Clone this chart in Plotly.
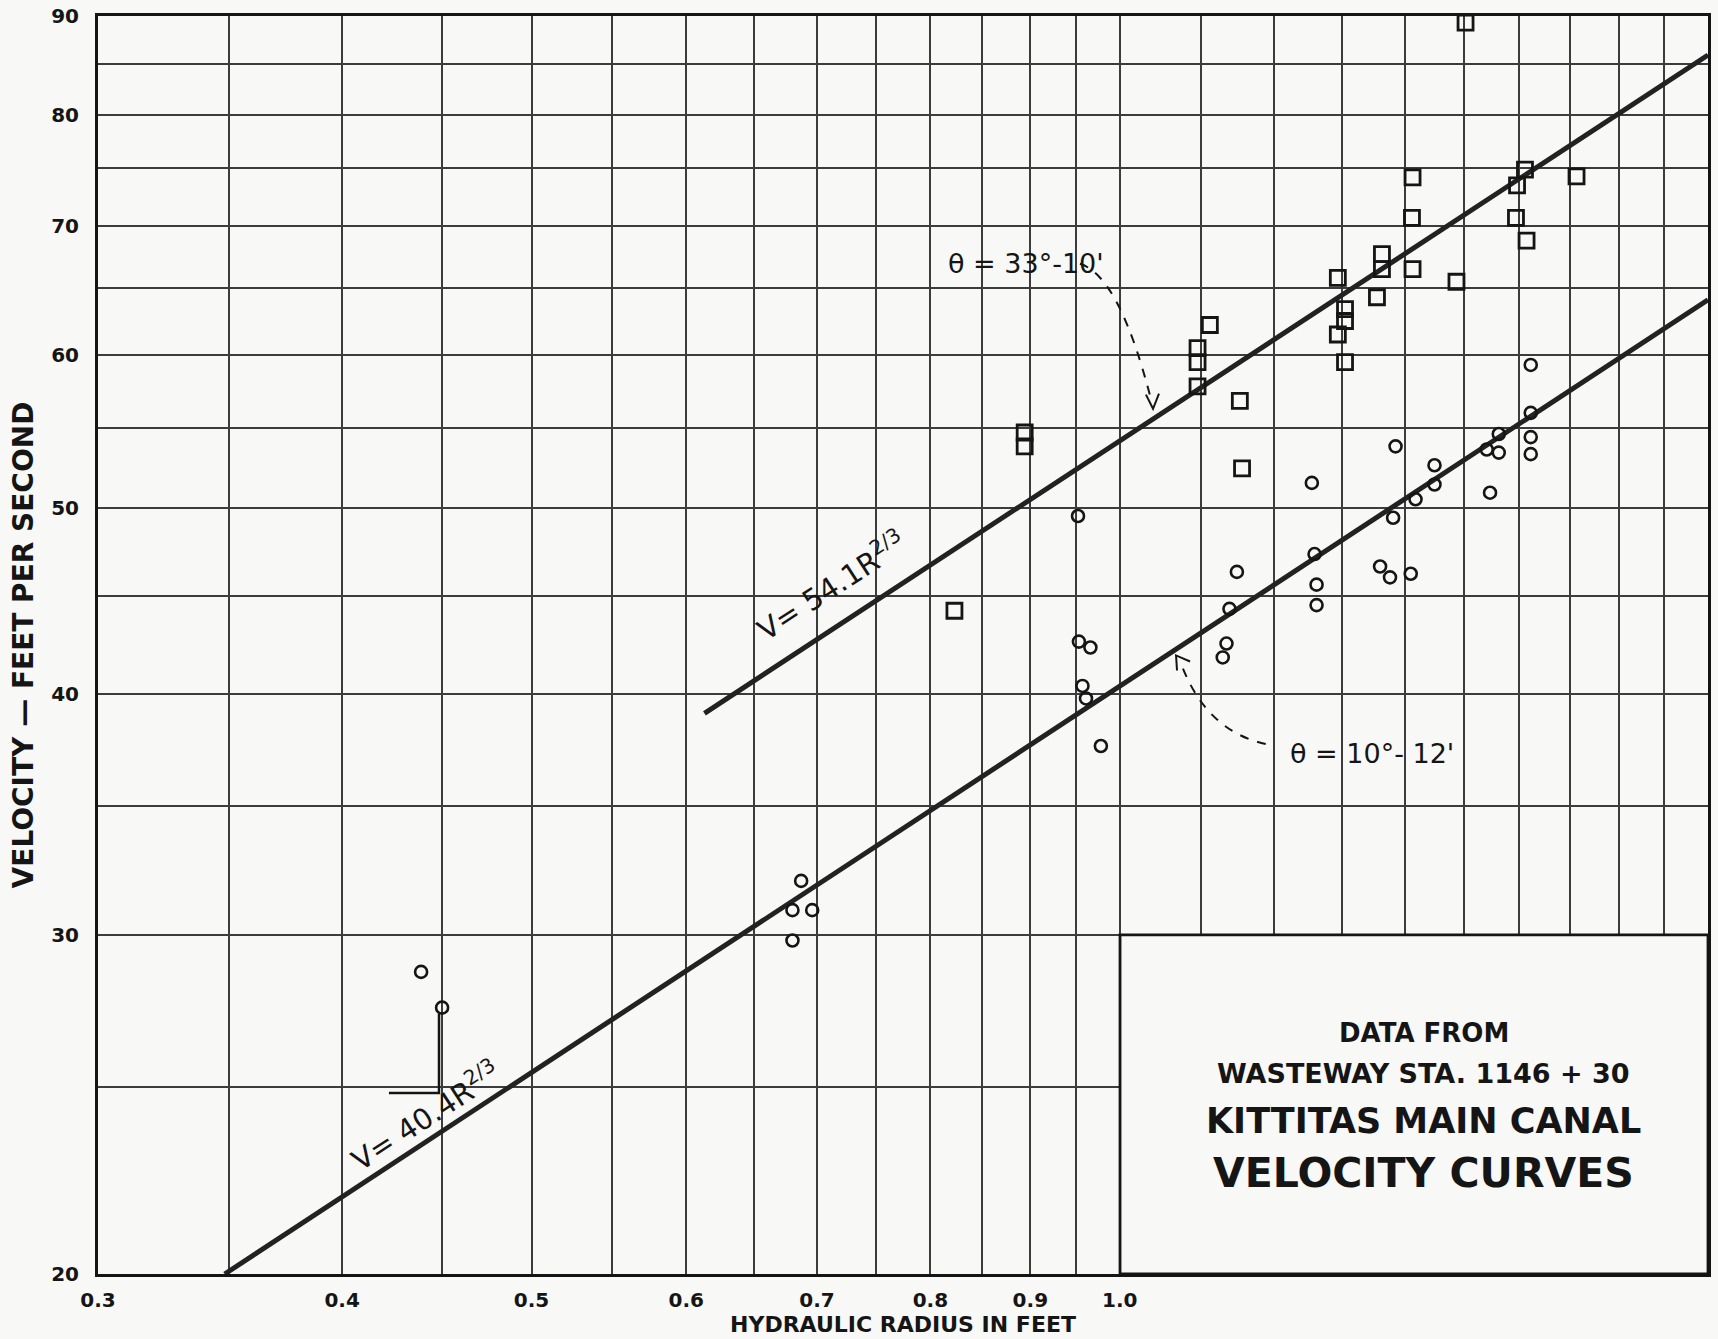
import math
import plotly.graph_objects as go

# ---------------- data ----------------
# grid / tick values
x_grid = [0.3, 0.35, 0.4, 0.45, 0.5, 0.55, 0.6, 0.65, 0.7, 0.75, 0.8, 0.85, 0.9, 0.95, 1.0,
          1.1, 1.2, 1.3, 1.4, 1.5, 1.6, 1.7, 1.8, 1.9, 2.0]
x_labeled = {0.3: "0.3", 0.4: "0.4", 0.5: "0.5", 0.6: "0.6", 0.7: "0.7", 0.8: "0.8", 0.9: "0.9", 1.0: "1.0"}
y_grid = [20, 25, 30, 35, 40, 45, 50, 55, 60, 65, 70, 75, 80, 85, 90]
y_labeled = {20: "20", 30: "30", 40: "40", 50: "50", 60: "60", 70: "70", 80: "80", 90: "90"}

# square markers (hydraulic radius, velocity)
sq_R = [1.503, 1.412, 1.612, 1.597, 1.713, 1.411, 1.595, 1.615, 1.362, 1.362, 1.412, 1.487,
        1.293, 1.354, 1.304, 1.304, 1.293, 1.304, 1.112, 1.096, 1.096, 1.096, 1.152, 1.155,
        0.894, 0.894, 0.823]
sq_V = [89.3, 74.2, 74.9, 73.5, 74.3, 70.7, 70.7, 68.8, 67.7, 66.5, 66.5, 65.5,
        65.8, 64.3, 63.4, 62.5, 61.5, 59.5, 62.2, 60.5, 59.5, 57.8, 56.8, 52.4,
        54.7, 53.8, 44.2]

# circle markers
ci_R = [0.450, 0.439, 0.687, 0.680, 0.696, 0.680, 0.952, 0.953, 0.966, 0.957, 0.961, 0.978,
        1.148, 1.138, 1.134, 1.129, 1.254, 1.258, 1.261, 1.261, 1.384, 1.359, 1.375, 1.409,
        1.380, 1.417, 1.449, 1.449, 1.547, 1.563, 1.541, 1.563, 1.623, 1.623, 1.623, 1.623]
ci_V = [27.5, 28.7, 32.0, 30.9, 30.9, 29.8, 49.5, 42.6, 42.3, 40.4, 39.8, 37.6,
        46.3, 44.3, 42.5, 41.8, 51.5, 47.3, 45.6, 44.5, 53.8, 46.6, 46.0, 46.2,
        49.4, 50.5, 52.6, 51.4, 50.9, 54.6, 53.6, 53.4, 59.3, 56.0, 54.4, 53.3]

# fitted lines  V = 54.1 R^(2/3)  and  V = 40.4 R^(2/3)  (end points)
line1_R = [0.613, 2.0]
line1_V = [39.1, 85.9]
line2_R = [0.3483, 2.0]
line2_V = [20.0, 64.1]

# ---------------- styling ----------------
BG = "#f8f8f6"
INK = "#151515"
FONT = "DejaVu Sans"

fig = go.Figure()

fig.add_trace(go.Scatter(x=line1_R, y=line1_V, mode="lines",
                         line=dict(color="#222", width=5), hoverinfo="skip"))
fig.add_trace(go.Scatter(x=line2_R, y=line2_V, mode="lines",
                         line=dict(color="#222", width=5), hoverinfo="skip"))
fig.add_trace(go.Scatter(x=sq_R, y=sq_V, mode="markers",
                         marker=dict(symbol="square-open", size=15, color=INK,
                                     line=dict(width=2.8, color=INK))))
fig.add_trace(go.Scatter(x=ci_R, y=ci_V, mode="markers",
                         marker=dict(symbol="circle-open", size=12, color=INK,
                                     line=dict(width=2.6, color=INK))))

x_text = [x_labeled.get(v, "") for v in x_grid]
y_text = [y_labeled.get(v, "") for v in y_grid]

fig.update_layout(
    width=1718, height=1339,
    margin=dict(l=98, r=10, t=16, b=65, autoexpand=False),
    paper_bgcolor=BG, plot_bgcolor=BG,
    showlegend=False,
    xaxis=dict(
        type="log", range=[math.log10(0.3), math.log10(2.0)],
        tickmode="array", tickvals=x_grid, ticktext=x_text,
        showgrid=True, gridcolor="#3c3c3c", gridwidth=1.5,
        showline=True, linecolor=INK, linewidth=3, mirror=True,
        ticks="", zeroline=False, automargin=False,
        ticklabelstandoff=6, ticklabeloverflow="allow",
        tickfont=dict(family=FONT, size=20, color=INK, weight="bold"),
        title=dict(text="HYDRAULIC RADIUS IN FEET", standoff=0,
                   font=dict(family=FONT, size=22, color=INK, weight="bold")),
    ),
    yaxis=dict(
        type="log", range=[math.log10(20) - 1e-6, math.log10(90) + 1e-6],
        tickmode="array", tickvals=y_grid, ticktext=y_text,
        showgrid=True, gridcolor="#3c3c3c", gridwidth=1.5,
        showline=True, linecolor=INK, linewidth=3, mirror=True,
        ticks="", zeroline=False, automargin=False,
        ticklabelstandoff=12, ticklabeloverflow="allow",
        tickfont=dict(family=FONT, size=20, color=INK, weight="bold"),
        title=dict(text="VELOCITY \u2014 FEET PER SECOND", standoff=10,
                   font=dict(family=FONT, size=28, color=INK, weight="bold")),
    ),
)

shapes = []
# title box in the lower right corner (top edge on the 30 line, left edge on the 1.0 line)
shapes.append(dict(type="rect", xref="paper", yref="paper",
                   x0=0.6348, x1=1.0, y0=0.0, y1=0.2696,
                   line=dict(color=INK, width=2.8), fillcolor=BG, layer="above"))
# dashed leader for theta = 33-10
shapes.append(dict(type="path", xref="paper", yref="paper",
                   path="M 0.6099,0.8030 Q 0.6348,0.7935 0.6547,0.6918",
                   line=dict(color=INK, width=2, dash="dash")))
shapes.append(dict(type="path", xref="paper", yref="paper",
                   path="M 0.6509,0.6990 L 0.6553,0.6878 L 0.6590,0.6998",
                   line=dict(color=INK, width=2)))
# dashed leader for theta = 10-12
shapes.append(dict(type="path", xref="paper", yref="paper",
                   path="M 0.6739,0.4813 Q 0.6907,0.4281 0.7298,0.4202",
                   line=dict(color=INK, width=2, dash="dash")))
shapes.append(dict(type="path", xref="paper", yref="paper",
                   path="M 0.6702,0.4797 L 0.6696,0.4917 L 0.6783,0.4869",
                   line=dict(color=INK, width=2)))
# small bracket near the low points
shapes.append(dict(type="path", xref="paper", yref="paper",
                   path="M 0.2118,0.2073 L 0.2118,0.1438 L 0.1807,0.1438",
                   line=dict(color=INK, width=2.5)))
fig.update_layout(shapes=shapes)

ann = []
def txt(x, y, s, size, angle=0, weight="normal"):
    ann.append(dict(x=x, y=y, xref="paper", yref="paper", text=s, showarrow=False,
                    textangle=angle, xanchor="center", yanchor="middle",
                    font=dict(family=FONT, size=size, color=INK, weight=weight)))

txt(0.4553, 0.5473, "V= 54.1R<sup>2/3</sup>", 29, angle=-33)
txt(0.2034, 0.1263, "V= 40.4R<sup>2/3</sup>", 29, angle=-33)
txt(0.5764, 0.8030, "\u03b8 = 33\u00b0-10'", 27)
txt(0.7913, 0.4135, "\u03b8 = 10\u00b0- 12'", 27)
txt(0.8236, 0.1914, "DATA FROM", 26, weight="bold")
txt(0.8236, 0.1597, "WASTEWAY STA. 1146 + 30", 27, weight="bold")
txt(0.8236, 0.1215, "KITTITAS MAIN CANAL", 35, weight="bold")
txt(0.8236, 0.0802, "VELOCITY CURVES", 41, weight="bold")
fig.update_layout(annotations=ann)

# remove the default page margin so the figure fills the window exactly; hide the mode bar
fig.write_html("out.html", config={"displayModeBar": False},
               post_script="document.body.style.margin='0px';")
